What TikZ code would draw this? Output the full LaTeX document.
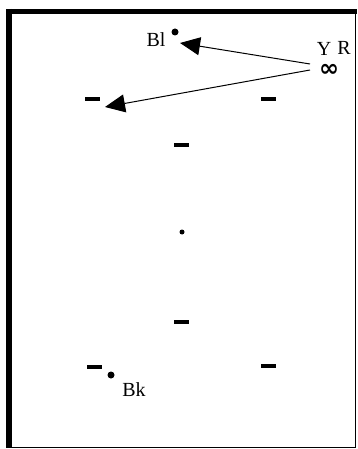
\documentclass[tikz,border=0pt]{standalone}
\usepackage{amsmath}
\usepackage{amssymb}
\usepackage{fontspec}
\setmainfont{Liberation Serif}
\newfontfamily\symfamily{DejaVu Sans}
\usetikzlibrary{arrows.meta}

\tikzset{
  bar/.style={fill, inner sep=0pt, minimum width=15pt, minimum height=4pt},
  spot/.style={circle, fill, inner sep=0pt, minimum size=7pt},
  lbl/.style={font=\fontsize{20}{20}\selectfont, inner sep=0pt}
}

\begin{document}
\begin{tikzpicture}[x=1pt, y=-1pt, line width=1pt]
  \useasboundingbox (0,0) rectangle (358,449);
  \draw[line width=1.5pt] (9,11.5) rectangle (355.5,447.5);
  \draw[line width=6pt] (9,9) -- (9,447.5);
  \draw[line width=5pt] (6,11.5) -- (357,11.5);

  % top group
  \node[spot] (bl) at (175,32) {};
  \node[lbl] (bllab) at (156,40) {Bl};
  \node[lbl] (y) at (324,49) {Y};
  \node[lbl] (r) at (344,48) {R};
  \node[inner sep=0pt, font=\symfamily\bfseries\fontsize{24}{24}\selectfont] (inf) at (329,70) {∞};
  \coordinate (s1) at (310,64);
  \coordinate (s2) at (310,70);
  \coordinate (t1) at (180,43);
  \coordinate (t2) at (105,107);

  \node[bar] (d1) at (92,99) {};
  \node[bar] (d2) at (268,99) {};
  \node[bar] (d3) at (181,145) {};

  % middle
  \node[circle, fill, inner sep=0pt, minimum size=5pt] (c) at (182,232) {};

  % bottom group
  \node[bar] (d4) at (181,322) {};
  \node[bar] (d5) at (94,367) {};
  \node[bar] (d6) at (268,366) {};
  \node[spot] (bk) at (111,375) {};
  \node[lbl] (bklab) at (134,390) {Bk};

  \draw[-{Triangle[length=20pt, width=18pt]}] (s1) to (t1);
  \draw[-{Triangle[length=20pt, width=18pt]}] (s2) to (t2);
\end{tikzpicture}
\end{document}
